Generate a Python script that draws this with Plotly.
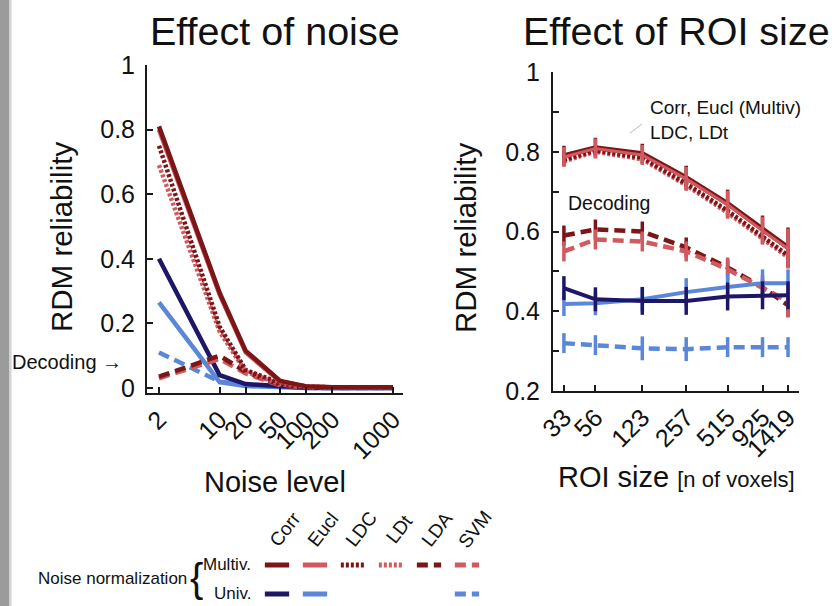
import plotly.graph_objects as go

W, H = 834, 606

# ---------------- data ----------------
noise_levels = [2, 10, 20, 50, 100, 200, 1000]
noise_ticktext = ["2", "10", "20", "50", "100", "200", "1000"]

noise_corr_multiv = [0.81, 0.295, 0.115, 0.022, 0.005, 0.002, 0.002]
noise_eucl_multiv = [0.80, 0.29, 0.11, 0.02, 0.005, 0.002, 0.002]
noise_ldc_multiv = [0.75, 0.19, 0.056, 0.015, 0.005, 0.002, 0.002]
noise_ldt_multiv = [0.69, 0.175, 0.05, 0.012, 0.004, 0.002, 0.002]
noise_lda_multiv = [0.035, 0.10, 0.05, 0.01, 0.002, 0.001, 0.001]
noise_svm_multiv = [0.03, 0.09, 0.045, 0.008, 0.002, 0.001, 0.001]
noise_corr_univ = [0.40, 0.04, 0.012, 0.004, 0.001, 0.0, 0.0]
noise_eucl_univ = [0.265, 0.018, 0.006, 0.002, 0.0, 0.0, 0.0]
noise_svm_univ = [0.11, 0.02, 0.01, 0.003, 0.0, 0.0, 0.0]

roi_sizes = [33, 56, 123, 257, 515, 925, 1419]
roi_ticktext = ["33", "56", "123", "257", "515", "925", "1419"]

roi_corr_multiv = [0.79, 0.81, 0.795, 0.735, 0.67, 0.605, 0.56]
roi_eucl_multiv = [0.787, 0.808, 0.792, 0.732, 0.667, 0.602, 0.557]
roi_ldc_multiv = [0.78, 0.803, 0.785, 0.72, 0.652, 0.587, 0.54]
roi_ldt_multiv = [0.776, 0.80, 0.781, 0.716, 0.647, 0.582, 0.535]
roi_lda_multiv = [0.59, 0.605, 0.60, 0.56, 0.51, 0.46, 0.415]
roi_svm_multiv = [0.55, 0.58, 0.575, 0.55, 0.505, 0.46, 0.425]
roi_corr_univ = [0.458, 0.43, 0.426, 0.426, 0.437, 0.44, 0.44]
roi_eucl_univ = [0.418, 0.42, 0.43, 0.448, 0.461, 0.47, 0.47]
roi_svm_univ = [0.32, 0.315, 0.307, 0.305, 0.31, 0.31, 0.31]

roi_err_corr_multiv = [0.025, 0.025, 0.025, 0.03, 0.035, 0.035, 0.05]
roi_err_eucl_multiv = [0.025, 0.025, 0.025, 0.03, 0.035, 0.035, 0.05]
roi_err_lda_multiv = [0.025, 0.025, 0.025, 0.025, 0.02, 0.02, 0.03]
roi_err_svm_multiv = [0.025, 0.025, 0.025, 0.025, 0.03, 0.03, 0.04]
roi_err_corr_univ = [0.03, 0.03, 0.035, 0.035, 0.035, 0.035, 0.035]
roi_err_eucl_univ = [0.03, 0.03, 0.03, 0.035, 0.035, 0.035, 0.035]
roi_err_svm_univ = [0.025, 0.025, 0.03, 0.03, 0.025, 0.025, 0.025]

y_left_ticks = [0, 0.2, 0.4, 0.6, 0.8, 1]
y_left_ticktext = ["0", "0.2", "0.4", "0.6", "0.8", "1"]
y_right_ticks = [0.2, 0.4, 0.6, 0.8, 1]
y_right_ticktext = ["0.2", "0.4", "0.6", "0.8", "1"]

methods = ["Corr", "Eucl", "LDC", "LDt", "LDA", "SVM"]
norm_rows = ["Multiv.", "Univ."]
legend_entries = [("Corr", "Multiv."), ("Eucl", "Multiv."), ("LDC", "Multiv."),
                  ("LDt", "Multiv."), ("LDA", "Multiv."), ("SVM", "Multiv."),
                  ("Corr", "Univ."), ("Eucl", "Univ."), ("SVM", "Univ.")]

# ---------------- styles ----------------
DARK_RED = "#7b1517"
LIGHT_RED = "#d05a60"
NAVY = "#1e1768"
LIGHT_BLUE = "#5b87d8"
DOT = "3px,2px"
DASH = "11px,6px"
FONT = "Liberation Sans, Arial, sans-serif"

style = {
    ("Corr", "Multiv."): (DARK_RED, "solid"),
    ("Eucl", "Multiv."): (LIGHT_RED, "solid"),
    ("LDC", "Multiv."): (DARK_RED, DOT),
    ("LDt", "Multiv."): (LIGHT_RED, DOT),
    ("LDA", "Multiv."): (DARK_RED, DASH),
    ("SVM", "Multiv."): (LIGHT_RED, DASH),
    ("Corr", "Univ."): (NAVY, "solid"),
    ("Eucl", "Univ."): (LIGHT_BLUE, "solid"),
    ("SVM", "Univ."): (LIGHT_BLUE, DASH),
}


def px(x):
    return x / W


def py(y):
    return 1 - y / H


fig = go.Figure()

# ---- left panel (noise) ----
left_series = [
    ("SVM", "Univ.", noise_svm_univ),
    ("Eucl", "Univ.", noise_eucl_univ),
    ("Corr", "Univ.", noise_corr_univ),
    ("SVM", "Multiv.", noise_svm_multiv),
    ("LDA", "Multiv.", noise_lda_multiv),
    ("LDt", "Multiv.", noise_ldt_multiv),
    ("LDC", "Multiv.", noise_ldc_multiv),
    ("Eucl", "Multiv.", noise_eucl_multiv),
    ("Corr", "Multiv.", noise_corr_multiv),
]
for m, n, vals in left_series:
    c, d = style[(m, n)]
    fig.add_trace(go.Scatter(x=noise_levels, y=vals, mode="lines",
                             line=dict(color=c, dash=d, width=4.5),
                             xaxis="x", yaxis="y", showlegend=False,
                             name=f"{m} {n}"))

# ---- right panel (ROI size) ----
right_series = [
    ("SVM", "Univ.", roi_svm_univ, roi_err_svm_univ, 4.5),
    ("LDA", "Multiv.", roi_lda_multiv, roi_err_lda_multiv, 4.5),
    ("SVM", "Multiv.", roi_svm_multiv, roi_err_svm_multiv, 4.5),
    ("Eucl", "Univ.", roi_eucl_univ, roi_err_eucl_univ, 4),
    ("Corr", "Univ.", roi_corr_univ, roi_err_corr_univ, 4),
    ("LDt", "Multiv.", roi_ldt_multiv, None, 4.5),
    ("LDC", "Multiv.", roi_ldc_multiv, None, 4.5),
    ("Corr", "Multiv.", roi_corr_multiv, roi_err_corr_multiv, 5),
    ("Eucl", "Multiv.", roi_eucl_multiv, roi_err_eucl_multiv, 3),
]
for m, n, vals, err, w in right_series:
    c, d = style[(m, n)]
    ey = dict(visible=False)
    if err is not None:
        ey = dict(type="data", array=err, visible=True, color=c,
                  thickness=3.5, width=0)
    fig.add_trace(go.Scatter(x=roi_sizes, y=vals, mode="lines",
                             line=dict(color=c, dash=d, width=w),
                             error_y=ey, xaxis="x2", yaxis="y2",
                             showlegend=False, name=f"{m} {n}"))

# ---- custom legend drawn on a hidden axis ----
for m, n in legend_entries:
    c, d = style[(m, n)]
    i = methods.index(m)
    r = 1 if n == "Multiv." else 0
    fig.add_trace(go.Scatter(x=[i - 0.32, i + 0.32], y=[r, r], mode="lines",
                             line=dict(color=c, dash=d, width=5),
                             xaxis="x3", yaxis="y3", showlegend=False,
                             hoverinfo="skip"))

axis_common = dict(showline=True, linecolor="#1a1a1a", linewidth=2,
                   ticks="inside", ticklen=6, tickwidth=1.5, tickcolor="#1a1a1a",
                   showgrid=False, zeroline=False, automargin=False,
                   tickfont=dict(family=FONT, size=25, color="#111"))

fig.update_layout(
    template="none",
    width=W, height=H, margin=dict(l=0, r=0, t=0, b=0, pad=0),
    paper_bgcolor="white", plot_bgcolor="white",
    font=dict(family=FONT, color="#111"),
    xaxis=dict(type="log", domain=[px(147), px(403)], range=[0.163, 3.115],
               tickvals=noise_levels, ticktext=noise_ticktext, tickangle=-45,
               anchor="y", **axis_common),
    yaxis=dict(domain=[py(393), py(65)], range=[-0.0155, 1.0],
               tickvals=y_left_ticks, ticktext=y_left_ticktext,
               ticklabelstandoff=5, anchor="x", **axis_common),
    xaxis2=dict(type="log", domain=[px(553), px(799)], range=[1.439, 3.232],
                tickvals=roi_sizes, ticktext=roi_ticktext, tickangle=-45,
                anchor="y2", **axis_common),
    yaxis2=dict(domain=[py(391), py(72)], range=[0.2, 1.0],
                tickvals=y_right_ticks, ticktext=y_right_ticktext,
                ticklabelstandoff=6,
                minor=dict(dtick=0.1, ticks="inside", ticklen=6,
                           tickcolor="#1a1a1a", tickwidth=1.5),
                anchor="x2", **axis_common),
    xaxis3=dict(domain=[px(239), px(505)], range=[-1, 6], visible=False,
                anchor="y3", fixedrange=True, automargin=False),
    yaxis3=dict(domain=[0, 56 / H], range=[-0.414, 1.517], visible=False,
                anchor="x3", fixedrange=True, automargin=False),
)

ann = []


def add_text(text, x, y, size, xanchor="center", yanchor="middle", angle=0,
             xref="paper", yref="paper", family=FONT, align="center"):
    ann.append(dict(text=text, x=x, y=y, xref=xref, yref=yref,
                    xanchor=xanchor, yanchor=yanchor, textangle=angle,
                    align=align, showarrow=False,
                    font=dict(family=family, size=size, color="#111")))


add_text("Effect of noise", px(275), py(31), 39.5)
add_text("Effect of ROI size", px(676), py(31), 39.5)
add_text("RDM reliability", px(61), py(237), 29.5, angle=-90)
add_text("RDM reliability", px(465), py(238), 29.5, angle=-90)
add_text("Noise level", px(275), py(482), 29)
add_text("ROI size <span style='font-size:22px'>[n of voxels]</span>",
         px(676), py(477), 29)
add_text("Decoding \u2192", px(10), py(362), 20, xanchor="left")
add_text("Decoding", px(566), py(203), 19.5, xanchor="left")
add_text("Corr, Eucl (Multiv)<br>LDC, LDt", px(648), py(120), 19,
         xanchor="left", align="left")
add_text("Noise normalization", px(36), py(578), 17, xanchor="left")
add_text("{", px(196), py(578), 40)
for r, lab in zip([1, 0], norm_rows):
    add_text(lab, -0.64, r, 17, xanchor="right", xref="x3", yref="y3")
for i, m in enumerate(methods):
    add_text(m, i + 0.2, py(529), 19, angle=-52, xref="x3")

fig.update_layout(annotations=ann)

fig.update_layout(shapes=[
    dict(type="rect", xref="paper", yref="paper", x0=0, x1=px(9), y0=0, y1=1,
         line=dict(width=0), fillcolor="#9b9b9b", layer="below"),
    dict(type="rect", xref="paper", yref="paper", x0=px(9), x1=px(11.5), y0=0,
         y1=1, line=dict(width=0), fillcolor="#d2d2d2", layer="below"),
    dict(type="line", xref="paper", yref="paper", x0=px(630), y0=py(133),
         x1=px(642), y1=py(124), line=dict(color="#b8b8b8", width=1)),
])

fig.write_html("out.html")
